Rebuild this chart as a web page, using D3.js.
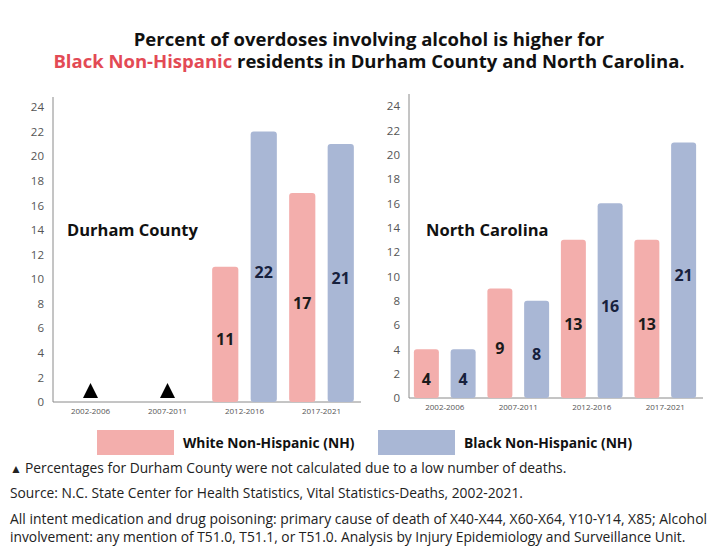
<!DOCTYPE html>
<html>
<head>
<meta charset="utf-8">
<script src="https://cdn.jsdelivr.net/npm/d3@7"></script>
<style>
  body { margin: 0; background: #fff; }
  svg { display: block; font-family: 'Open Sans', sans-serif; }
</style>
</head>
<body>
<div class="chart"></div>
<script>
;(function () {
  var W = 718
  var H = 550

  // data
  var periods = ['2002-2006', '2007-2011', '2012-2016', '2017-2021']
  var groups = ['White Non-Hispanic (NH)', 'Black Non-Hispanic (NH)']
  var durhamWhite = [null, null, 11, 17]
  var durhamBlack = [null, null, 22, 21]
  var ncWhite = [4, 9, 13, 13]
  var ncBlack = [4, 8, 16, 21]
  var yTicks = [0, 2, 4, 6, 8, 10, 12, 14, 16, 18, 20, 22, 24]
  var notes = [
    'Source: N.C. State Center for Health Statistics, Vital Statistics-Deaths, 2002-2021.',
    'All intent medication and drug poisoning: primary cause of death of X40-X44, X60-X64, Y10-Y14, X85; Alcohol',
    'involvement: any mention of T51.0, T51.1, or T51.0. Analysis by Injury Epidemiology and Surveillance Unit.'
  ]

  var COLORS = { white: '#f3aeac', black: '#a9b7d5' }
  var LABEL = { white: '#1b1b1b', black: '#17213d' }

  var svg = d3.select('.chart').append('svg')
    .attr('width', W)
    .attr('height', H)

  // title, two lines
  svg.append('text')
    .attr('x', 369).attr('y', 46)
    .attr('text-anchor', 'middle')
    .attr('font-weight', 700)
    .attr('font-size', 18.5)
    .attr('fill', '#111')
    .text('Percent of overdoses involving alcohol is higher for')
  var l2 = svg.append('text')
    .attr('x', 369).attr('y', 68)
    .attr('text-anchor', 'middle')
    .attr('font-weight', 700)
    .attr('font-size', 18.5)
    .attr('fill', '#111')
  l2.append('tspan').attr('fill', '#e34a55').text('Black Non-Hispanic')
  l2.append('tspan').text(' residents in Durham County and North Carolina.')

  drawPanel({
    name: 'Durham County',
    white: durhamWhite,
    black: durhamBlack,
    x0: 52, x1: 360, yBase: 402, yTop: 107, axisTop: 97,
    nameX: 67, nameY: 236
  })

  drawPanel({
    name: 'North Carolina',
    white: ncWhite,
    black: ncBlack,
    x0: 408, x1: 702, yBase: 398, yTop: 106, axisTop: 94,
    nameX: 426, nameY: 236
  })

  function drawPanel (p) {
    var g = svg.append('g')
    var x = d3.scaleBand().domain(periods).range([p.x0, p.x1])
    var inner = d3.scaleBand().domain(['white', 'black'])
      .range([0, x.bandwidth()]).paddingInner(0.32).paddingOuter(0.16)
    var y = d3.scaleLinear().domain([0, 24]).range([p.yBase, p.yTop])

    // y axis
    var yAxis = g.append('g')
      .attr('transform', 'translate(' + (p.x0 + 1) + ',0)')
      .call(d3.axisLeft(y).tickValues(yTicks).tickSize(0).tickPadding(9))
    yAxis.select('.domain').attr('stroke', '#8a8a8a').attr('d', 'M0,' + p.yBase + 'V' + p.axisTop)
    yAxis.selectAll('text').attr('font-size', 11.5).attr('fill', '#555').attr('font-family', 'Open Sans')

    // x axis
    var xAxis = g.append('g')
      .attr('transform', 'translate(0,' + p.yBase + ')')
      .call(d3.axisBottom(x).tickSize(0).tickPadding(6))
    xAxis.select('.domain').attr('stroke', '#8a8a8a').attr('d', 'M' + (p.x0 + 1) + ',0H' + (p.x1 + 1))
    xAxis.selectAll('text').attr('font-size', 8).attr('fill', '#555').attr('font-family', 'Open Sans')

    var rows = periods.map(function (d, i) {
      return { period: d, white: p.white[i], black: p.black[i] }
    })

    ;['white', 'black'].forEach(function (k) {
      var withVal = rows.filter(function (r) { return r[k] != null })
      g.selectAll('rect.bar-' + k).data(withVal).enter().append('rect')
        .attr('class', 'bar-' + k)
        .attr('x', function (r) { return x(r.period) + inner(k) })
        .attr('y', function (r) { return y(r[k]) })
        .attr('width', inner.bandwidth())
        .attr('height', function (r) { return y(0) - y(r[k]) })
        .attr('rx', 3)
        .attr('fill', COLORS[k])

      g.selectAll('text.lab-' + k).data(withVal).enter().append('text')
        .attr('class', 'lab-' + k)
        .attr('x', function (r) { return x(r.period) + inner(k) + inner.bandwidth() / 2 })
        .attr('y', function (r) { return y(r[k] / 2) + 11 })
        .attr('text-anchor', 'middle')
        .attr('font-weight', 700)
        .attr('font-size', 16)
        .attr('fill', LABEL[k])
        .text(function (r) { return r[k] })
    })

    // triangles where not calculated
    var missing = rows.filter(function (r) { return r.white == null && r.black == null })
    g.selectAll('path.tri').data(missing).enter().append('path')
      .attr('class', 'tri')
      .attr('d', function (r) {
        var cx = x(r.period) + x.bandwidth() / 2
        var b = p.yBase - 4
        return 'M' + (cx - 7.5) + ',' + b + 'L' + (cx + 7.5) + ',' + b + 'L' + cx + ',' + (b - 15) + 'Z'
      })
      .attr('fill', '#000')

    g.append('text')
      .attr('x', p.nameX)
      .attr('y', p.nameY)
      .attr('font-weight', 700)
      .attr('font-size', 16.5)
      .attr('fill', '#111')
      .text(p.name)
  }

  // legend
  var legend = svg.append('g')
  var legendX = [97, 378]
  groups.forEach(function (name, i) {
    var k = i === 0 ? 'white' : 'black'
    legend.append('rect')
      .attr('x', legendX[i]).attr('y', 430)
      .attr('width', 77).attr('height', 25)
      .attr('fill', COLORS[k])
    legend.append('text')
      .attr('x', legendX[i] + 86).attr('y', 448)
      .attr('font-weight', 700).attr('font-size', 13.8).attr('fill', '#111')
      .text(name)
  })

  // footnotes
  var foot = svg.append('g').attr('font-size', 13.8).attr('fill', '#222')
  var tri = foot.append('text').attr('x', 10).attr('y', 473)
  tri.append('tspan').attr('font-size', 12).text('\u25B2 ')
  tri.append('tspan').text('Percentages for Durham County were not calculated due to a low number of deaths.')
  foot.append('text').attr('x', 10).attr('y', 498).text(notes[0])
  foot.append('text').attr('x', 10).attr('y', 524)
    .attr('textLength', 697).attr('lengthAdjust', 'spacingAndGlyphs')
    .text(notes[1])
  foot.append('text').attr('x', 10).attr('y', 542).text(notes[2])
})()
</script>
</body>
</html>
